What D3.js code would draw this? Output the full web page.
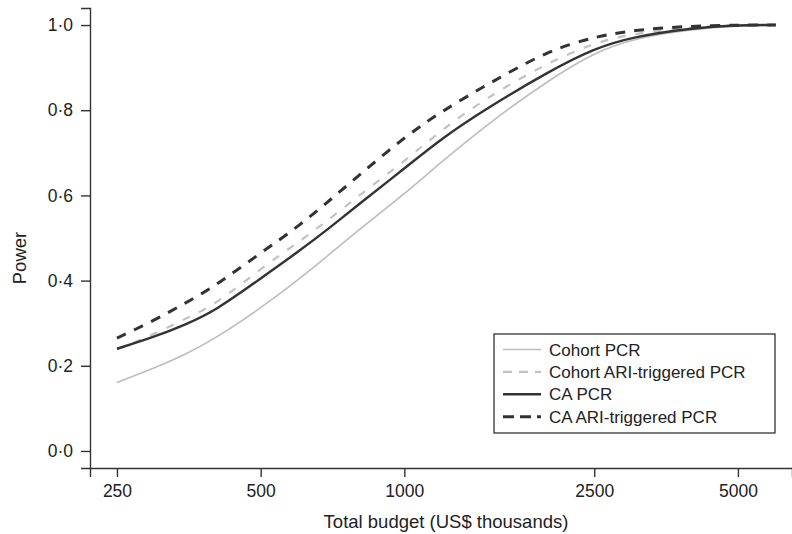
<!DOCTYPE html>
<html>
<head>
<meta charset="utf-8">
<script src="https://cdn.jsdelivr.net/npm/d3@7"></script>
<style>
    body { margin: 0; background: #fff; }
    text { font-family: "Liberation Sans", Arial, sans-serif; fill: #222; }
</style>
</head>
<body>
<div id="chart"></div>
<script>
'use strict'

const budgets = [250, 300, 350, 400, 500, 600, 700, 800, 1000, 1200, 1500, 2000, 2500, 3000, 4000, 5000, 6000]

const cohortPCR    = [0.161, 0.195, 0.228, 0.263, 0.335, 0.402, 0.463, 0.518, 0.603, 0.680, 0.769, 0.870, 0.935, 0.968, 0.990, 0.998, 1.000]
const cohortARI    = [0.238, 0.275, 0.312, 0.342, 0.428, 0.490, 0.546, 0.598, 0.680, 0.755, 0.832, 0.912, 0.958, 0.980, 0.995, 1.000, 1.000]
const caPCR        = [0.240, 0.268, 0.298, 0.328, 0.405, 0.468, 0.525, 0.578, 0.663, 0.735, 0.807, 0.890, 0.945, 0.972, 0.993, 1.000, 1.000]
const caARI        = [0.265, 0.307, 0.349, 0.386, 0.465, 0.527, 0.590, 0.645, 0.737, 0.798, 0.862, 0.940, 0.972, 0.988, 0.998, 1.000, 1.000]

const xTicks = [250, 500, 1000, 2500, 5000]
const yTicks = [0, 0.2, 0.4, 0.6, 0.8, 1.0]

const seriesNames = ['Cohort PCR', 'Cohort ARI-triggered PCR', 'CA PCR', 'CA ARI-triggered PCR']
const seriesValues = [cohortPCR, cohortARI, caPCR, caARI]

////////////////////////////////////
//////////// svg setup /////////////
////////////////////////////////////

const svgWidth = 792
const svgHeight = 534

const svg = d3.select('#chart')
    .append('svg')
    .attr('width', svgWidth)
    .attr('height', svgHeight)

const styles = [
    { stroke: '#bdbdbd', width: 1.6, dash: null, legendDash: null },
    { stroke: '#c2c2c2', width: 2.2, dash: '8,10', legendDash: '9,7' },
    { stroke: '#333', width: 2.4, dash: null, legendDash: null },
    { stroke: '#333', width: 3, dash: '10,9', legendDash: '11,6' }
]

////////////////////////////////////
////////////// scales //////////////
////////////////////////////////////

const x = d3.scaleLog()
    .domain([219.5, 6490])
    .range([90, 792])

const y = d3.scaleLinear()
    .domain([-0.04, 1.04])
    .range([468, 8])

const fmt = d => d3.format('.1f')(d).replace('.', '\u00b7')

// axes
svg.append('g')
    .attr('transform', `translate(0,468)`)
    .call(d3.axisBottom(x).tickValues(xTicks).tickFormat(d3.format('d')).tickSizeOuter(0).tickSize(9).tickPadding(8))

svg.append('g')
    .attr('transform', `translate(90,0)`)
    .call(d3.axisLeft(y).tickValues(yTicks).tickFormat(fmt).tickSizeOuter(0).tickSize(9).tickPadding(8))

svg.selectAll('.domain, .tick line')
    .attr('stroke', '#333')
    .attr('stroke-width', 1.4)

svg.selectAll('.tick text')
    .style('font-family', '"Liberation Sans", Arial, sans-serif')
    .style('font-size', '17.5px')
    .attr('fill', '#222')

// axis titles
svg.append('text')
    .attr('x', 446)
    .attr('y', 528)
    .attr('text-anchor', 'middle')
    .style('font-size', '18.5px')
    .text('Total budget (US$ thousands)')

svg.append('text')
    .attr('transform', 'translate(26,258) rotate(-90)')
    .attr('text-anchor', 'middle')
    .style('font-size', '18.5px')
    .text('Power')

////////////////////////////////////
////////////// lines ///////////////
////////////////////////////////////

const line = d3.line()
    .x(d => x(d[0]))
    .y(d => y(d[1]))
    .curve(d3.curveBasis)

seriesValues.forEach((vals, i) => {
    svg.append('path')
        .datum(budgets.map((b, j) => [b, vals[j]]))
        .attr('fill', 'none')
        .attr('stroke', styles[i].stroke)
        .attr('stroke-width', styles[i].width)
        .attr('stroke-dasharray', styles[i].dash)
        .attr('d', line)
})

////////////////////////////////////
////////////// legend //////////////
////////////////////////////////////

const legend = svg.append('g')

legend.append('rect')
    .attr('x', 494)
    .attr('y', 334)
    .attr('width', 281)
    .attr('height', 99)
    .attr('fill', '#fff')
    .attr('stroke', '#333')
    .attr('stroke-width', 1.3)

seriesNames.forEach((name, i) => {
    const ly = 349.5 + i * 22.4
    legend.append('line')
        .attr('x1', 503)
        .attr('x2', 541)
        .attr('y1', ly)
        .attr('y2', ly)
        .attr('stroke', styles[i].stroke)
        .attr('stroke-width', styles[i].width)
        .attr('stroke-dasharray', styles[i].legendDash)
    legend.append('text')
        .attr('x', 549)
        .attr('y', ly + 6)
        .style('font-size', '17px')
        .text(name)
})
</script>
</body>
</html>
